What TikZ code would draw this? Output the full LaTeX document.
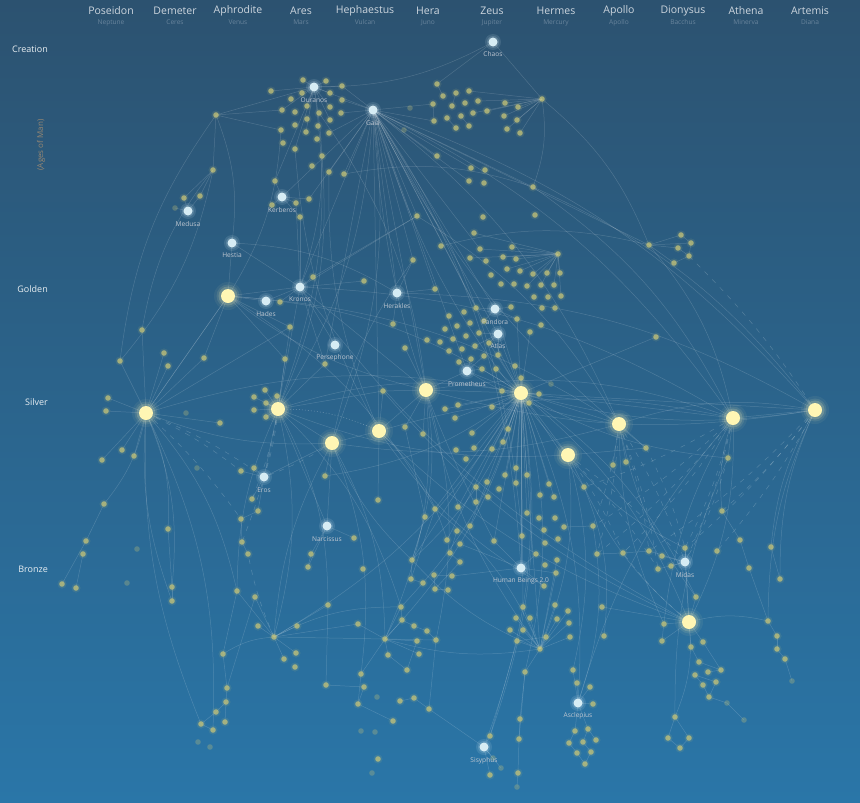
\documentclass[tikz,border=0pt]{standalone}
\usepackage{fontspec}
\setmainfont{Open Sans}
\definecolor{bgtop}{RGB}{44,82,112}
\definecolor{bgbot}{RGB}{42,118,168}
\definecolor{dotc}{RGB}{198,196,120}
\definecolor{hubc}{RGB}{255,246,180}
\definecolor{godc}{RGB}{214,236,244}
\definecolor{labc}{RGB}{190,198,208}
\definecolor{titc}{RGB}{205,214,222}
\definecolor{subc}{RGB}{104,132,156}
\definecolor{agec}{RGB}{232,238,242}
\definecolor{agesc}{RGB}{150,135,115}
\tikzset{
  dot/.style={circle,inner sep=0pt,minimum size=5.6pt,fill=dotc,fill opacity=0.75,draw=none},
  dimdot/.style={dot,fill opacity=0.3},
  godnode/.style={circle,inner sep=0pt,minimum size=9pt,fill=godc,draw=none},
  hubnode/.style={circle,inner sep=0pt,minimum size=14pt,fill=hubc,draw=none},
  edge/.style={draw=white,line width=0.5pt,draw opacity=0.16},
  dedge/.style={edge,dash pattern=on 5pt off 6pt,draw opacity=0.2},
  dotedge/.style={edge,dash pattern=on 1pt off 2pt,draw opacity=0.3},
  lab/.style={text=labc,font=\fontsize{6.6}{8}\selectfont,inner sep=0pt},
  godtitle/.style={text=titc,font=\fontsize{10.5}{12}\selectfont,inner sep=0pt},
  godsub/.style={text=subc,font=\fontsize{6.6}{8}\selectfont,inner sep=0pt},
  agelab/.style={text=agec,font=\fontsize{9}{10}\selectfont,inner sep=0pt,anchor=east},
}
\def\dotlist{o1/271/91,o2/303/80,o3/326/81,o4/342/86,o5/302/93,o6/291/99,o7/330/93,o8/342/100,
o9/282/110,o10/295/112,o11/307/106,o12/319/113,o13/330/107,o14/341/113,o15/307/119,o16/330/120,
o17/281/130,o18/295/125,o19/318/126,o20/306/132,o21/329/133,o22/283/143,o23/317/139,o24/295/149,
o25/322/156,o26/312/166,o27/329/172,o28/344/174,o29/275/181,o30/296/203,o31/309/199,o32/300/217,
o33/272/205,o34/216/115,o35/213/170,o36/184/198,o37/200/196,
g1/437/84,g2/443/96,g3/456/93,g4/469/91,g5/433/104,g6/452/106,g7/465/103,g8/478/101,g9/434/121,
g10/447/118,g11/461/116,g12/473/113,g13/487/111,g14/456/128,g15/469/126,g16/505/103,g17/518/107,
g18/504/116,g19/517/120,g20/507/129,g21/520/133,g22/542/99,
m1/437/156,m2/471/168,m3/485/170,m4/469/181,m5/484/183,m6/533/187,m7/535/215,m8/483/217,m9/417/216,
m10/474/233,m11/441/246,m12/480/249,m13/512/247,m14/470/258,m15/486/261,m16/503/257,m17/516/259,
m18/558/254,m19/413/260,m20/507/269,m21/520/271,m22/533/274,m23/547/273,m24/560/273,m25/491/275,
m26/501/284,m27/514/284,m28/527/286,m29/541/285,m30/554/285,m31/534/297,m32/548/297,m33/561/296,
m34/435/289,m35/542/308,m36/555/308,m37/511/307,m38/476/308,m39/464/312,m40/449/316,m41/470/323,
m42/457/326,m43/484/321,m44/517/319,m45/541/325,m46/530/332,m47/445/329,m48/427/340,m49/440/342,
m50/453/339,m51/466/336,m52/479/333,m53/489/343,m54/449/351,m55/462/349,m56/475/346,m57/459/362,
m58/471/359,m59/484/356,m60/498/355,m61/405/348,m62/482/369,m63/496/369,m64/515/366,m65/521/378,
m66/502/391,m67/539/394,m69/393/324,m71/313/277,m72/364/281,
r1/649/245,r2/681/235,r3/691/243,r4/678/248,r5/689/256,r6/674/263,r7/656/337,
l1/142/330,l2/120/361,l3/164/353,l4/168/366,l5/204/358,l6/108/398,l7/106/411,l8/122/450,l9/134/456,
l10/102/460,l12/220/423,l13/290/327,l14/285/359,l15/265/390,l16/254/397,l17/277/396,l18/266/403,
l19/254/410,l20/266/417,l21/325/364,l22/383/391,l23/241/471,l24/254/468,l26/252/499,l27/258/511,
l28/241/519,l29/242/542,l30/248/554,l31/325/476,l32/378/500,l33/104/504,l34/86/541,l35/83/554,
l36/62/584,l37/76/588,l39/168/529,l41/172/587,l42/172/601,l43/354/538,l44/363/569,l45/311/554,
l46/308/567,l47/280/302,
c1/445/409,c2/458/405,c3/455/418,c4/492/407,c5/529/403,c6/405/427,c7/423/434,c8/472/433,c9/508/429,
c10/503/442,c11/456/450,c12/474/448,c13/492/449,c14/466/459,c15/516/468,c16/505/475,c17/527/475,
c18/487/482,c19/516/483,c20/476/487,c21/499/489,c22/549/484,c23/540/495,c24/554/497,c25/488/497,
c26/476/502,c27/458/507,c28/435/509,c29/425/517,c30/584/487,c31/646/448,c32/613/465,c33/626/462,
c34/527/513,c35/539/518,c36/555/518,c37/470/526,c38/457/531,c39/447/540,c40/460/544,c41/450/553,
c42/460/562,c43/494/541,c44/522/536,c45/544/530,c46/558/539,c47/564/527,c48/593/526,c49/545/543,
c50/536/554,c51/557/560,c52/545/565,c53/556/573,c54/544/586,c55/597/554,c56/623/553,c57/649/551,
c58/662/556,c59/671/566,c60/658/569,c61/685/548,c62/412/560,c63/411/579,c64/423/583,c65/434/575,
c66/452/576,c67/435/589,c68/448/590,c69/401/607,c70/402/620,c71/414/626,c72/427/631,c73/523/607,
c74/516/618,c75/530/618,c76/555/605,c77/568/611,c78/557/619,c79/569/623,c80/510/630,c81/523/630,
c82/546/637,c83/602/607,c84/664/624,c85/696/597,c86/728/458,c87/722/511,c88/740/540,c89/771/547,
c90/717/551,c91/749/568,c92/780/579,
b3/237/591,b4/255/597,b5/328/605,b6/258/626,b7/297/626,b8/358/624,b9/274/637,b10/385/639,
b11/417/641,b12/436/640,b13/570/637,b14/604/636,b15/517/641,b16/296/653,b17/284/659,b18/295/667,
b19/223/654,b20/388/655,b21/419/654,b22/540/649,b23/407/670,b24/525/672,b25/573/670,b26/361/674,
b27/326/685,b28/364/687,b29/577/683,b30/590/687,b31/227/688,b32/226/702,b33/216/712,b34/201/724,
b35/213/730,b36/225/722,b39/358/704,b41/400/701,b42/414/698,b43/429/709,b44/393/721,b47/490/736,
b48/520/719,b49/519/739,b50/593/704,b51/575/731,b52/588/729,b53/569/743,b54/583/742,b55/596/740,
b56/577/753,b57/591/752,b58/585/764,b59/378/759,b63/490/775,b64/518/773,
b69/662/641,b70/691/647,b71/703/642,b72/699/662,b73/721/670,b74/695/675,b75/708/672,b76/716/682,
b77/703/685,b78/709/697,b81/768/621,b82/777/636,b83/777/649,b84/785/659,b86/675/717,b87/668/738,
b88/689/738,b89/680/748}
\def\dimlist{o38/175/208,g23/410/108,g24/404/130,m68/551/384,l11/186/413,l25/197/468,l38/137/549,
l40/127/583,b37/198/742,b38/210/747,b40/377/697,b45/361/731,b46/375/732,b60/372/773,b61/493/758,
b62/501/768,b65/517/787,b79/727/703,b80/744/720,b85/792/681}
\def\hublist{y1/228/296,y2/146/413,y3/278/409,y4/332/443,y5/379/431,y6/426/390,y7/521/393,
y8/568/455,y9/619/424,y10/733/418,y11/815/410,y12/689/622}
\def\godlist{chaos/493/42/54/Chaos,ouranos/314/87/100/Ouranos,gaia/373/110/123/Gaia,
kerberos/282/197/210/Kerberos,medusa/188/211/224/Medusa,hestia/232/243/255/Hestia,
hades/266/301/314/Hades,kronos/300/287/299/Kronos,herakles/397/293/306/Herakles,
pandora/495/309/322/Pandora,atlas/498/334/346/Atlas,persephone/335/345/358/Persephone,
prometheus/467/371/384/Prometheus,eros/264/477/490/Eros,narcissus/327/526/539/Narcissus,
human/521/568/581/Human Beings 2.0,midas/685/562/575/Midas,asclepius/578/703/716/Asclepius,
sisyphus/484/747/761/Sisyphus}
\def\edgesA{chaos/g1,chaos/g22,ouranos/o1,ouranos/o2,ouranos/o3,ouranos/o4,ouranos/o5,ouranos/o7,
ouranos/o9,ouranos/o11,ouranos/o13,ouranos/o16,ouranos/o20,ouranos/o24,ouranos/o29,ouranos/o34,
ouranos/gaia,gaia/o4,gaia/o8,gaia/o14,gaia/o21,gaia/o28,gaia/o27,gaia/g5,gaia/g9,gaia/m1,gaia/m2,
gaia/m4,gaia/m9,gaia/m19,gaia/m34,gaia/kronos,gaia/herakles,gaia/prometheus,gaia/y6,gaia/y7,
gaia/pandora,gaia/m6,gaia/r1,gaia/y5,gaia/kerberos,gaia/o31,gaia/l21,gaia/m38,gaia/atlas,gaia/m12,
g22/g16,g22/g17,g22/g18,g22/g19,g22/g20,g22/g21,g22/g13,g22/g8,g22/g4,g22/g12,
g1/g2,g3/g6,g5/g9,g10/g14,g11/g15,
o34/o9,o34/o17,o34/o35,o35/o36,o35/o37,medusa/o36,medusa/o37,medusa/o38,o29/kerberos,kerberos/o30,
kerberos/o31,kerberos/o33,kerberos/o32,o32/kronos,
hestia/y1,hestia/kronos,y1/kronos,y1/hades,y1/y2,y1/l13,y1/l14,y1/l5,hades/kronos,kronos/m71,
kronos/m72,kronos/l21,kronos/persephone,kronos/y6,kronos/m9,kronos/l47,kronos/o30,kronos/y3,
herakles/m19,herakles/m34,herakles/m69,m71/m9,
y2/l1,y2/l2,y2/l3,y2/l4,y2/l5,y2/l6,y2/l7,y2/l8,y2/l9,y2/l10,y2/l12,y2/l13,y2/y1,
y3/l13,y3/l14,y3/l15,y3/l16,y3/l17,y3/l18,y3/l19,y3/l20,y3/l21,y3/y4,y3/eros,y3/narcissus,y3/l22,
y4/y5,y4/l31,y4/narcissus,y5/y6,y5/l22,y5/l32,y6/l22,y6/prometheus,y6/m61,y6/c6,y6/c7,
y7/m62,y7/m63,y7/m64,y7/m65,y7/m66,y7/m67,y7/m60,y7/m53,y7/m46,y7/m44,y7/atlas,y7/pandora,
y7/prometheus,y7/c1,y7/c2,y7/c3,y7/c4,y7/c5,y7/c8,y7/c9,y7/c10,y7/c12,y7/c13,y7/c15,y7/c16,
y7/c17,y7/c19,y7/c22,y7/c24,y7/y8,y7/y9,y7/y10,y7/y11,y7/r7,y7/c30,y7/c43,y7/c44,y7/c34,y7/human,
y7/c73,y7/b22,y7/c28,y7/y6,y7/c37,y7/c39,y7/c27,y7/c62,
pandora/m38,pandora/m43,pandora/m44,pandora/m37,atlas/m52,atlas/m53,atlas/m56,atlas/m60,
prometheus/m57,prometheus/m58,prometheus/m62,prometheus/m59,
m18/m20,m18/m21,m18/m22,m18/m23,m18/m24,m18/m16,m18/m17,m18/m13,m18/m28,m18/m29,m18/m30,m18/m33,
m18/m12,m18/m10,m18/m14,
r1/r2,r1/r3,r1/r4,r1/r6,r2/r3,r4/r5,r6/r5,r3/r5,
y10/y11,y10/c86,y9/c31,y9/c32,y9/c33,y8/c30,y8/c31,
y12/c61,y12/midas,y12/c84,y12/c85,y12/b70,y12/b71,y12/c83,y12/b69,
midas/c57,midas/c58,midas/c59,midas/c60,midas/c61,c56/c57,
asclepius/b29,asclepius/b30,asclepius/b50,asclepius/b51,asclepius/b52,asclepius/b25,b51/b53,
b52/b55,b53/b56,b54/b57,b56/b58,b57/b58,b52/b54,
b22/c73,b22/c74,b22/c75,b22/c76,b22/c77,b22/c78,b22/c79,b22/c80,b22/c81,b22/b13,b22/b15,
b22/b24,b22/c82,b22/c53,b22/c51,
human/c50,human/c53,human/c54,human/c43,human/c66,human/c40,
b9/b3,b9/b4,b9/b6,b9/b7,b9/b16,b9/b17,b9/b5,b9/b8,b9/b10,
b10/b8,b10/b11,b10/b12,b10/c69,b10/c70,b10/b20,b10/b26,b10/b21,
eros/l23,eros/l24,eros/l26,eros/l27,eros/y4,l27/l28,l28/l29,l29/l30,
narcissus/l43,narcissus/l45,narcissus/l46,l45/l46,
sisyphus/b47,sisyphus/b61,sisyphus/b62,sisyphus/b63,sisyphus/b43,
b48/b49,b49/b64,b64/b65,b24/b48,
l33/l34,l34/l36,l35/l37,l39/l41,l41/l42,b19/b31,b31/b32,b32/b33,b33/b34,b34/b35,b32/b36,
b3/b19,b4/b31,b81/b82,b82/b83,b83/b84,b84/b85,c91/b81,c89/c92,c87/c88,c88/c91,
b86/b87,b86/b88,b87/b89,b88/b89,
b70/b72,b72/b73,b73/b75,b74/b76,b76/b78,b77/b78,b78/b79,b79/b80,b71/b73,b74/b77,
c62/c63,c63/c64,c65/c66,c67/c68,c69/c70,c70/c71,c71/c72,c47/c48,c55/c56,
c6/c29,c29/c62,c28/c63,c20/c26,c38/c41,c41/c42,c42/c67,c65/c67,b11/b23,b12/b43,b20/b23,
b26/b39,b28/b39,b39/b44,b41/b42,b42/b43,b27/b28,b5/b27,c72/b12,c82/b15,b15/b47,b24/b49}
\def\edgesL{chaos/ouranos,gaia/y11,gaia/y10,gaia/y9,y2/y7,y3/y7,y1/y7,y6/y10,y7/y12,y5/y10,y9/y11,
y2/b3,y2/l41,y2/l33,y3/b9,y4/b10,y7/sisyphus,y7/asclepius,y7/b9,y10/y12,l2/o34,o35/l2,y1/y9,
kronos/y10,herakles/y11,r1/y10,m6/y11,y12/b86,c48/asclepius,y8/b22,y7/c69,m11/r1,g22/m6,
hestia/herakles,y7/c62,gaia/y3,ouranos/y3,o17/y1,l1/o35,y2/l39,y7/b10,y7/b24,y6/b10,
gaia/y4,o34/hestia,ouranos/kronos,y7/c85,y8/b25,c30/b14,b9/c69,b19/b9,y3/b5,y4/b26,y6/c62,
y7/l31,y5/c39,g22/r1,m6/y10,m9/y9,o28/m6,y2/b35,y12/b81,gaia/human,gaia/c44,o12/y6,o25/y3,
y1/c28,y3/c69,y6/b12,y7/b47,c28/b22}
\def\edgesR{gaia/y8,y7/y11,prometheus/y9,y4/y9,y3/y8,y6/y11,y7/c86,y5/y12,y9/c84,m19/y4,y2/y4,
l22/y12,y10/asclepius,y11/b81,y11/c89,y10/c87,c30/y12,kronos/y12,y2/b34,y1/y6,y3/b3,y4/c62,
y6/b22,y8/c61,y9/c85,c86/b86,y10/b69,y11/c92,gaia/c31,o27/y5,y2/l42,b10/b22,c62/b22,
gaia/c43,o24/y5,y5/c54,y4/b9}
\def\edgesD{r5/y11,y10/c61,y10/c56,y10/c48,y11/c90,y11/c57,y9/c57,y9/midas,y9/c55,y8/midas,
y10/c30,y2/eros,y2/l28,y10/midas,y11/c61,c86/midas,y8/c56,y9/c60,y3/eros,y3/l26,y2/l23,
y10/c55,y11/c87,y9/c48,y8/c60,y12/c56,c31/c61,y4/eros,b9/l30,y3/l29}
\begin{document}
\begin{tikzpicture}[x=1pt,y=-1pt]
\useasboundingbox (0,0) rectangle (860,803);
\shade[top color=bgtop,bottom color=bgbot] (0,0) rectangle (860,803);
% coordinates
\foreach \n/\x/\y in \dotlist {\coordinate (\n) at (\x,\y);}
\foreach \n/\x/\y in \dimlist {\coordinate (\n) at (\x,\y);}
\foreach \n/\x/\y in \hublist {\coordinate (\n) at (\x,\y);}
\foreach \n/\x/\y/\ly/\t in \godlist {\coordinate (\n) at (\x,\y);}
% connectors
\foreach \a/\b in \edgesA {\draw[edge] (\a) -- (\b);}
\foreach \a/\b in \edgesL {\draw[edge] (\a) to[bend left=14] (\b);}
\foreach \a/\b in \edgesR {\draw[edge] (\a) to[bend right=12] (\b);}
\foreach \a/\b in \edgesD {\draw[dedge] (\a) to[bend left=6] (\b);}
\draw[dotedge] (y3) to[bend left=12] (y5);
% small dots
\foreach \n/\x/\y in \dimlist {\node[dimdot] at (\n) {};}
\foreach \n/\x/\y in \dotlist {\fill[dotc,opacity=0.12] (\n) circle (4.6pt); \node[dot] at (\n) {};}
% labelled nodes
\foreach \n/\x/\y/\ly/\t in \godlist {
  \fill[godc,opacity=0.12] (\n) circle (8pt);
  \fill[godc,opacity=0.18] (\n) circle (6pt);
  \node[godnode] at (\n) {};
  \node[lab] (\n-l) at (\x,\ly) {\t};
}
% glowing hubs
\foreach \n/\x/\y in \hublist {
  \fill[hubc,opacity=0.06] (\n) circle (14pt);
  \fill[hubc,opacity=0.10] (\n) circle (11.5pt);
  \fill[hubc,opacity=0.18] (\n) circle (9.5pt);
  \node[hubnode] at (\n) {};
}
% header
\foreach \n/\x/\g/\r in {t1/111/Poseidon/Neptune,t2/175/Demeter/Ceres,t3/238/Aphrodite/Venus,
  t4/301/Ares/Mars,t5/365/Hephaestus/Vulcan,t6/428/Hera/Juno,t7/492/Zeus/Jupiter,
  t8/556/Hermes/Mercury,t9/619/Apollo/Apollo,t10/683/Dionysus/Bacchus,t11/746/Athena/Minerva,
  t12/810/Artemis/Diana} {
  \node[godtitle] (\n) at (\x,11) {\g};
  \node[godsub] (\n-s) at (\x,22.5) {\r};
}
% ages
\node[agelab] (creation) at (48,49) {Creation};
\node[agelab] (golden) at (48,289) {Golden};
\node[agelab] (silver) at (48,402) {Silver};
\node[agelab] (bronze) at (48,569) {Bronze};
\node[text=agesc,font=\fontsize{8}{9}\selectfont,rotate=90,inner sep=0pt] (agesofman) at (41,145) {(Ages of Man)};
\end{tikzpicture}
\end{document}
